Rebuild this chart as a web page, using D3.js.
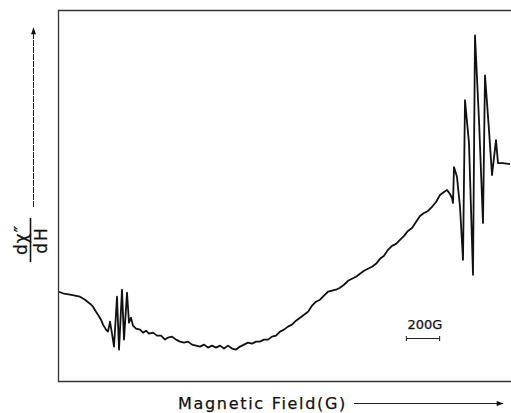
<!DOCTYPE html>
<html>
<head>
<meta charset="utf-8">
<script src="https://cdn.jsdelivr.net/npm/d3@7"></script>
<style>
  body { margin: 0; background: #fff; }
  text { font-family: "DejaVu Sans", sans-serif; fill: #111; stroke: #111; stroke-width: 0.25px; }
</style>
</head>
<body>
<div id="chart"></div>
<script>
'use strict';

// magnetic field (G) and derivative signal (arbitrary units)
var field = [6, 36, 72, 102, 132, 162, 192, 210, 228, 240, 258, 270, 288, 300, 312, 324, 336, 354, 366, 384,
  396, 414, 426, 438, 450, 468, 492, 510, 528, 546, 570, 594, 618, 642, 660, 684, 708, 732, 756, 780,
  804, 828, 852, 876, 900, 924, 948, 972, 996, 1020, 1044, 1068, 1092, 1116, 1140, 1164, 1188, 1212, 1236, 1260,
  1284, 1308, 1332, 1356, 1380, 1404, 1428, 1452, 1476, 1500, 1524, 1548, 1572, 1596, 1620, 1644, 1668, 1692, 1716, 1740,
  1764, 1788, 1812, 1836, 1860, 1884, 1908, 1932, 1956, 1980, 2004, 2028, 2052, 2076, 2100, 2124, 2148, 2172, 2196, 2220,
  2244, 2268, 2292, 2316, 2334, 2352, 2364, 2370, 2376, 2394, 2412, 2430, 2442, 2466, 2490, 2502, 2526, 2550, 2562, 2586,
  2604, 2628, 2640, 2670, 2712];
var signal = [90, 88, 87, 86, 85, 82, 78, 75, 70, 67, 62, 57, 52, 50, 60, 48, 35, 85, 32, 92,
  42, 89, 59, 64, 56, 53, 52, 49, 51, 48, 49, 46, 46, 42, 44, 45, 42, 40, 39, 40,
  37, 36, 35, 37, 34, 36, 34, 36, 33, 36, 33, 32, 35, 37, 39, 38, 40, 40, 42, 42,
  45, 46, 50, 52, 55, 57, 61, 64, 67, 70, 76, 80, 82, 86, 90, 91, 92, 94, 97, 101,
  103, 105, 108, 111, 113, 115, 118, 123, 126, 132, 136, 138, 142, 146, 151, 154, 160, 166, 169, 171,
  175, 180, 187, 190, 192, 188, 184, 179, 215, 205, 175, 122, 282, 239, 107, 347, 262, 159, 307, 252,
  207, 242, 219, 219, 218];

var fieldRange = [0, 2760];
var signalRange = [0, 372];
var scaleBar = [2090, 2290];
var scaleBarLabel = "200G";
var xTitle = "Magnetic Field(G)";

var chart = {};
chart.width = 511;
chart.height = 413;
chart.margin = {top: 10, left: 58, bottom: 31};

chart.run = function(){
    var svg = d3.select("#chart").append("svg")
        .attr("width", chart.width)
        .attr("height", chart.height);

    var x = d3.scaleLinear().domain(fieldRange).range([chart.margin.left, 518]);
    var y = d3.scaleLinear().domain(signalRange).range([chart.height - chart.margin.bottom - 0.5, chart.margin.top + 0.5]);

    var defs = svg.append("defs");
    defs.append("marker")
        .attr("id", "head")
        .attr("viewBox", "0 0 10 10")
        .attr("refX", 9).attr("refY", 5)
        .attr("markerWidth", 10).attr("markerHeight", 7)
        .attr("markerUnits", "userSpaceOnUse")
        .attr("orient", "auto")
        .append("path")
        .attr("d", "M0,1.5 L10,5 L0,8.5 Z")
        .attr("fill", "#111");

    // frame: left, top, bottom (right side runs off the page)
    var x0 = x(fieldRange[0]) + 0.5, x1 = x(fieldRange[1]);
    var yTop = y(signalRange[1]), yBot = y(signalRange[0]);
    svg.append("path")
        .attr("d", "M" + x1 + "," + yTop + "H" + x0 + "V" + yBot + "H" + x1)
        .attr("fill", "none")
        .attr("stroke", "#333")
        .attr("stroke-width", 1.3);

    var line = d3.line()
        .x(function(d, i){ return x(field[i]); })
        .y(function(d, i){ return y(signal[i]); });

    svg.append("path")
        .datum(signal)
        .attr("d", line)
        .attr("fill", "none")
        .attr("stroke", "#111")
        .attr("stroke-width", 1.8)
        .attr("stroke-linejoin", "round");

    // scale bar
    var sb = svg.append("g").attr("stroke", "#222").attr("stroke-width", 1);
    var sbY = 338.5;
    sb.append("line").attr("x1", x(scaleBar[0])).attr("x2", x(scaleBar[1])).attr("y1", sbY).attr("y2", sbY);
    sb.append("line").attr("x1", x(scaleBar[0])).attr("x2", x(scaleBar[0])).attr("y1", sbY - 2.5).attr("y2", sbY + 2.5);
    sb.append("line").attr("x1", x(scaleBar[1])).attr("x2", x(scaleBar[1])).attr("y1", sbY - 2.5).attr("y2", sbY + 2.5);
    svg.append("text")
        .attr("x", (x(scaleBar[0]) + x(scaleBar[1])) / 2 + 2)
        .attr("y", 329)
        .attr("text-anchor", "middle")
        .style("font-size", "13px")
        .text(scaleBarLabel);

    // y axis label with arrow
    svg.append("line")
        .attr("x1", 33.5).attr("x2", 33.5)
        .attr("y1", 207).attr("y2", 28)
        .attr("stroke", "#222")
        .attr("stroke-width", 1)
        .attr("stroke-dasharray", "6,1")
        .attr("marker-end", "url(#head)");

    var lab = svg.append("g").attr("transform", "translate(30,240) rotate(-90)");
    lab.append("text")
        .attr("x", 0).attr("y", -3)
        .attr("text-anchor", "middle")
        .style("font-size", "17px")
        .style("letter-spacing", "1px")
        .text("dχ\u2033");
    lab.append("line")
        .attr("x1", -22).attr("x2", 22)
        .attr("y1", 0.5).attr("y2", 0.5)
        .attr("stroke", "#111")
        .attr("stroke-width", 1.6);
    lab.append("text")
        .attr("x", 0).attr("y", 17)
        .attr("text-anchor", "middle")
        .style("font-size", "17px")
        .style("letter-spacing", "2px")
        .text("dH");

    // x title with arrow
    svg.append("text")
        .attr("x", 178)
        .attr("y", 409)
        .style("font-size", "16px")
        .style("letter-spacing", "1.7px")
        .text(xTitle);
    svg.append("line")
        .attr("x1", 354).attr("x2", 503)
        .attr("y1", 403.5).attr("y2", 403.5)
        .attr("stroke", "#222")
        .attr("stroke-width", 1)
        .attr("marker-end", "url(#head)");
};

window.onload = chart.run;
</script>
</body>
</html>
